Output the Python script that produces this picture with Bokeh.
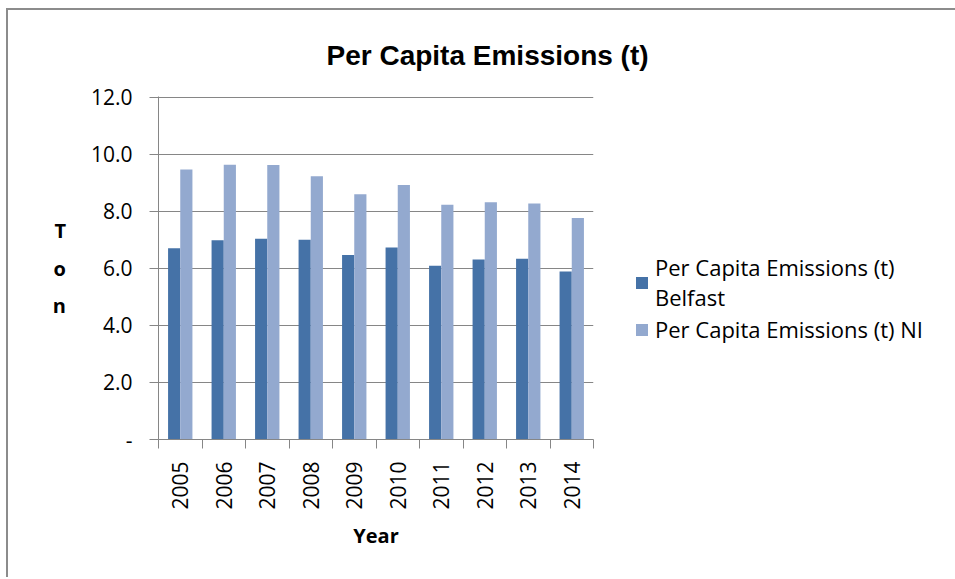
import math
from bokeh.plotting import figure
from bokeh.models import (FactorRange, Range1d, LinearAxis, CategoricalAxis, FixedTicker,
                          CategoricalTicker, Legend, LegendItem, ColumnDataSource,
                          NumeralTickFormatter, Title)
from bokeh.transform import dodge
from bokeh.embed import file_html
from bokeh.resources import INLINE

# ---- data ----
years = ["2005", "2006", "2007", "2008", "2009", "2010", "2011", "2012", "2013", "2014"]
belfast = [6.71, 6.99, 7.04, 7.01, 6.47, 6.73, 6.09, 6.31, 6.34, 5.89]
ni = [9.47, 9.64, 9.63, 9.23, 8.60, 8.93, 8.23, 8.32, 8.28, 7.77]
y_ticks = [0, 2, 4, 6, 8, 10, 12]
series_names = ["Per Capita Emissions (t)\nBelfast", "Per Capita Emissions (t) NI"]
title_text = "Per Capita Emissions (t)"
y_label = "T\no\nn"
x_label = "Year"

BLUE = "#4572A7"
LIGHT = "#93A9CF"
GRID = "#868686"
FONT = "Open Sans"

src = ColumnDataSource(dict(year=years, belfast=belfast, ni=ni))

p = figure(frame_width=435, frame_height=343, x_range=FactorRange(*years, range_padding=0),
           y_range=Range1d(0, 12.03), output_backend="svg", toolbar_location=None,
           x_axis_location=None, y_axis_location="left",
           min_border_left=150, min_border_right=360, min_border_top=86, min_border_bottom=138)
p.styles = {"border-top": "2px solid #8c8c8c", "border-left": "2px solid #8c8c8c",
            "margin-left": "6px", "margin-top": "8px"}
p.outline_line_color = None
p.background_fill_color = "white"
p.border_fill_color = "white"

bw = 0.28
r1 = p.vbar(x=dodge("year", -0.14, range=p.x_range), top="belfast", width=bw, bottom=0,
            source=src, fill_color=BLUE, line_color=None)
r2 = p.vbar(x=dodge("year", 0.14, range=p.x_range), top="ni", width=bw, bottom=0,
            source=src, fill_color=LIGHT, line_color=None)

# y axis
ya = p.yaxis[0]
ya.ticker = FixedTicker(ticks=y_ticks, minor_ticks=[])
ya.formatter = NumeralTickFormatter(format="0.0")
ya.major_label_overrides = {0: "-"}
ya.axis_line_color = GRID
ya.major_tick_line_color = GRID
ya.major_tick_out = 9
ya.major_tick_in = 0
ya.minor_tick_line_color = None
ya.major_label_standoff = 17
ya.major_label_text_font = FONT
ya.major_label_text_font_size = "21px"
ya.major_label_text_color = "black"
ya.axis_label = y_label
ya.axis_label_text_font = FONT
ya.axis_label_text_font_style = "bold"
ya.axis_label_text_font_size = "20px"
ya.axis_label_text_color = "black"
ya.axis_label_text_line_height = 1.4
ya.axis_label_standoff = 22
try:
    ya.axis_label_orientation = "horizontal"
except Exception:
    pass

p.xgrid.visible = False
p.ygrid.ticker = FixedTicker(ticks=y_ticks)
p.ygrid.grid_line_color = GRID
p.ygrid.grid_line_width = 1

# x axis: tick marks at the boundaries between categories (synthetic coords 0..n)
tick_axis = LinearAxis(ticker=FixedTicker(ticks=list(range(len(years) + 1)), minor_ticks=[]),
                       major_label_text_font_size="0px", major_label_standoff=0,
                       axis_line_color=GRID, major_tick_line_color=GRID,
                       major_tick_out=9, major_tick_in=0, minor_tick_line_color=None)
p.add_layout(tick_axis, "below")

cat_axis = CategoricalAxis(ticker=CategoricalTicker(), axis_line_color=None,
                           major_tick_line_color=None, minor_tick_line_color=None,
                           major_label_orientation=math.pi / 2, major_label_standoff=7,
                           major_label_text_font=FONT, major_label_text_font_size="21px",
                           major_label_text_color="black",
                           axis_label=x_label, axis_label_text_font=FONT,
                           axis_label_text_font_style="bold", axis_label_text_font_size="20px",
                           axis_label_standoff=9, axis_label_text_color="black")
p.add_layout(cat_axis, "below")

# title
p.title = Title(text=title_text, align="left", offset=168, standoff=51,
                text_font="Liberation Sans", text_font_style="bold", text_font_size="28px",
                text_color="black")

legend = Legend(items=[LegendItem(label=series_names[0], renderers=[r1]),
                       LegendItem(label=series_names[1], renderers=[r2])],
                location=(41, 95), orientation="vertical",
                glyph_width=15, glyph_height=15, label_standoff=6, spacing=2,
                padding=0, margin=0, border_line_color=None, background_fill_alpha=0,
                label_text_font=FONT, label_text_font_size="22px", label_text_color="black")
p.add_layout(legend, "right")

open("out.html", "w").write(file_html(p, INLINE))
